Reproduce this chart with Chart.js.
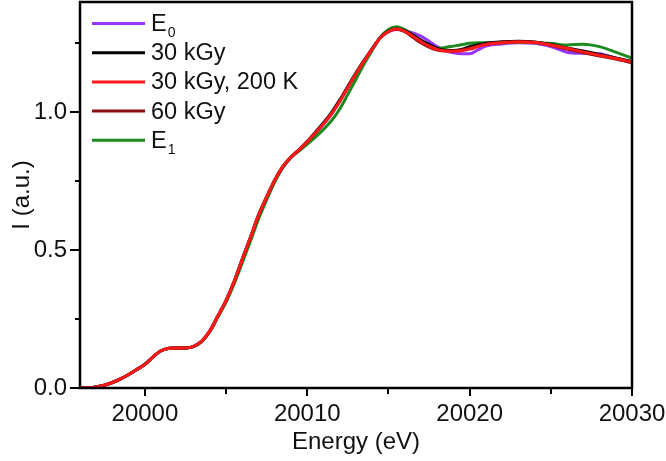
<!DOCTYPE html>
<html>
<head>
<meta charset="utf-8">
<script src="https://cdn.jsdelivr.net/npm/chart.js@4.4.1/dist/chart.umd.min.js"></script>
<style>
  html, body { margin: 0; padding: 0; background: #fff; }
  #wrap { width: 666px; height: 461px; position: relative; }
</style>
</head>
<body>
<div id="wrap"><canvas id="c" width="666" height="461"></canvas></div>
<script>
// ---- data ----
const energy = [19996, 19996.5, 19997, 19997.5, 19998, 19998.5, 19999, 19999.5, 20000, 20000.5,
  20001, 20001.5, 20002, 20002.5, 20003, 20003.5, 20004, 20004.5, 20005, 20005.5,
  20006, 20006.5, 20007, 20007.5, 20008, 20008.5, 20009, 20009.5, 20010, 20010.5,
  20011, 20011.5, 20012, 20012.5, 20013, 20013.5, 20014, 20014.5, 20015, 20015.5,
  20016, 20016.5, 20017, 20017.5, 20018, 20018.5, 20019, 20019.5, 20020, 20020.5,
  20021, 20022, 20023, 20024, 20025, 20026, 20027, 20028, 20029, 20030];

const seriesLabels = ["E₀", "30 kGy", "30 kGy, 200 K", "60 kGy", "E₁"];

const valsE0 = [0.000, 0.001, 0.004, 0.010, 0.020, 0.033, 0.049, 0.067, 0.086, 0.113,
  0.135, 0.144, 0.145, 0.145, 0.151, 0.170, 0.207, 0.262, 0.318, 0.387,
  0.468, 0.546, 0.627, 0.693, 0.752, 0.800, 0.836, 0.862, 0.890, 0.922,
  0.956, 0.994, 1.040, 1.090, 1.140, 1.186, 1.230, 1.270, 1.292, 1.300,
  1.296, 1.288, 1.276, 1.258, 1.238, 1.224, 1.216, 1.212, 1.212, 1.226,
  1.240, 1.248, 1.252, 1.250, 1.238, 1.218, 1.214, 1.212, 1.196, 1.180];

const vals30kGy = [0.000, 0.001, 0.004, 0.010, 0.020, 0.033, 0.049, 0.067, 0.086, 0.113,
  0.135, 0.144, 0.145, 0.145, 0.151, 0.170, 0.207, 0.262, 0.318, 0.387,
  0.468, 0.546, 0.627, 0.693, 0.755, 0.804, 0.838, 0.865, 0.895, 0.928,
  0.962, 1.000, 1.045, 1.094, 1.143, 1.188, 1.231, 1.271, 1.294, 1.302,
  1.296, 1.280, 1.262, 1.246, 1.232, 1.225, 1.224, 1.228, 1.238, 1.244,
  1.250, 1.256, 1.258, 1.255, 1.246, 1.233, 1.222, 1.210, 1.197, 1.184];

const vals30kGy200K = [0.000, 0.001, 0.004, 0.010, 0.020, 0.033, 0.049, 0.067, 0.086, 0.113,
  0.135, 0.144, 0.145, 0.145, 0.151, 0.170, 0.207, 0.262, 0.318, 0.387,
  0.468, 0.546, 0.627, 0.693, 0.755, 0.804, 0.838, 0.864, 0.893, 0.925,
  0.958, 0.995, 1.040, 1.090, 1.140, 1.186, 1.230, 1.270, 1.293, 1.302,
  1.294, 1.276, 1.257, 1.240, 1.228, 1.222, 1.221, 1.223, 1.229, 1.238,
  1.246, 1.252, 1.255, 1.253, 1.244, 1.232, 1.219, 1.207, 1.195, 1.182];

const vals60kGy = [0.000, 0.001, 0.004, 0.010, 0.020, 0.033, 0.049, 0.067, 0.086, 0.113,
  0.135, 0.144, 0.145, 0.145, 0.151, 0.170, 0.207, 0.262, 0.318, 0.387,
  0.468, 0.546, 0.627, 0.693, 0.755, 0.804, 0.838, 0.864, 0.893, 0.925,
  0.958, 0.995, 1.040, 1.090, 1.140, 1.186, 1.230, 1.270, 1.293, 1.302,
  1.292, 1.272, 1.252, 1.236, 1.226, 1.222, 1.223, 1.226, 1.232, 1.240,
  1.247, 1.254, 1.257, 1.254, 1.243, 1.229, 1.216, 1.204, 1.193, 1.180];

const valsE1 = [0.000, 0.001, 0.004, 0.010, 0.020, 0.033, 0.049, 0.067, 0.086, 0.113,
  0.135, 0.144, 0.145, 0.145, 0.150, 0.168, 0.204, 0.258, 0.312, 0.378,
  0.455, 0.533, 0.613, 0.683, 0.748, 0.800, 0.836, 0.860, 0.885, 0.910,
  0.938, 0.970, 1.012, 1.065, 1.120, 1.175, 1.225, 1.272, 1.300, 1.310,
  1.300, 1.280, 1.258, 1.240, 1.232, 1.235, 1.240, 1.245, 1.250, 1.252,
  1.252, 1.252, 1.254, 1.252, 1.250, 1.244, 1.247, 1.238, 1.218, 1.196];

const xTickValues = [20000, 20005, 20010, 20015, 20020, 20025, 20030];
const yTickValues = [0, 0.25, 0.5, 0.75, 1.0, 1.25];

const seriesValues = [valsE0, vals30kGy, vals30kGy200K, vals60kGy, valsE1];
const seriesColors = ["#9a33ff", "#000000", "#ff1a1a", "#8a0f0f", "#1d8a1d"];
const drawOrder = [4, 2, 0, 1, 3]; // lower = drawn on top

const FONT = '"Liberation Sans", Arial, Helvetica, sans-serif';

const datasets = seriesLabels.map((lab, i) => ({
  label: lab,
  data: energy.map((e, j) => ({ x: e, y: seriesValues[i][j] })),
  borderColor: seriesColors[i],
  backgroundColor: seriesColors[i],
  borderWidth: 3,
  pointRadius: 0,
  fill: false,
  cubicInterpolationMode: 'monotone',
  order: drawOrder[i]
}));

const isMajorX = v => v % 10 === 0;
const isMajorY = v => Math.abs(v * 2 - Math.round(v * 2)) < 1e-9;

const framePlugin = {
  id: 'frame',
  afterDatasetsDraw(chart) {
    const { ctx, chartArea: a, scales } = chart;
    ctx.save();
    ctx.strokeStyle = '#000';
    ctx.lineWidth = 2;
    // tick marks, positioned by the library's scales
    ctx.beginPath();
    scales.x.ticks.forEach(t => {
      const px = Math.round(scales.x.getPixelForValue(t.value));
      const len = isMajorX(t.value) ? 8 : 6;
      ctx.moveTo(px, a.bottom);
      ctx.lineTo(px, a.bottom + len);
    });
    scales.y.ticks.forEach(t => {
      const py = Math.round(scales.y.getPixelForValue(t.value));
      const len = isMajorY(t.value) ? 10 : 5;
      ctx.moveTo(a.left, py);
      ctx.lineTo(a.left - len, py);
    });
    ctx.stroke();
    ctx.lineWidth = 2.5;
    ctx.strokeRect(a.left, a.top, a.right - a.left, a.bottom - a.top);
    ctx.restore();
  }
};

const legendPlugin = {
  id: 'insideLegend',
  afterDraw(chart) {
    const { ctx, chartArea: a } = chart;
    ctx.save();
    chart.data.datasets.forEach((ds, i) => {
      const y = a.top + 21.5 + i * 29.2;
      ctx.strokeStyle = ds.borderColor;
      ctx.lineWidth = 3;
      ctx.beginPath();
      ctx.moveTo(a.left + 12, y);
      ctx.lineTo(a.left + 65, y);
      ctx.stroke();
      const m = ds.label.match(/^(.*?)([₀-₉]+)$/);
      ctx.fillStyle = '#111';
      ctx.textBaseline = 'middle';
      ctx.font = '23.5px ' + FONT;
      const tx = a.left + 71;
      if (m) {
        ctx.fillText(m[1], tx, y + 1);
        const w = ctx.measureText(m[1]).width;
        const sub = m[2].replace(/[₀-₉]/g, c => String(c.charCodeAt(0) - 0x2080));
        ctx.font = '14px ' + FONT;
        ctx.fillText(sub, tx + w + 1, y + 10);
      } else {
        ctx.fillText(ds.label, tx, y + 1);
      }
    });
    ctx.restore();
  }
};

new Chart(document.getElementById('c'), {
  type: 'line',
  data: { datasets },
  plugins: [framePlugin, legendPlugin],
  options: {
    responsive: false,
    animation: false,
    devicePixelRatio: 1,
    layout: { padding: { top: 2, right: 34, left: 0, bottom: 0 } },
    plugins: { legend: { display: false }, tooltip: { enabled: false } },
    scales: {
      x: {
        type: 'linear',
        min: 19996,
        max: 20030,
        afterBuildTicks: s => { s.ticks = xTickValues.map(v => ({ value: v })); },
        afterFit: s => { s.height = 73; s.paddingLeft = 0; s.paddingRight = 0; },
        ticks: {
          color: '#111',
          font: { family: FONT, size: 24 },
          padding: 4,
          maxRotation: 0,
          autoSkip: false,
          callback: v => (isMajorX(v) ? String(v) : '')
        },
        grid: {
          drawOnChartArea: false,
          drawTicks: true,
          tickLength: 8,
          tickColor: 'rgba(0,0,0,0)'
        },
        border: { display: false },
        title: {
          display: true,
          text: 'Energy (eV)',
          color: '#111',
          font: { family: FONT, size: 24 },
          padding: { top: 0, bottom: 4 }
        }
      },
      y: {
        type: 'linear',
        min: 0,
        max: 1.40,
        afterBuildTicks: s => { s.ticks = yTickValues.map(v => ({ value: v })); },
        afterFit: s => { s.width = 80; s.paddingTop = 0; s.paddingBottom = 0; },
        ticks: {
          color: '#111',
          font: { family: FONT, size: 24 },
          padding: 3,
          autoSkip: false,
          callback: v => (isMajorY(v) ? v.toFixed(1) : '')
        },
        grid: {
          drawOnChartArea: false,
          drawTicks: true,
          tickLength: 10,
          tickColor: 'rgba(0,0,0,0)'
        },
        border: { display: false },
        title: {
          display: true,
          text: 'I (a.u.)',
          color: '#111',
          font: { family: FONT, size: 24 },
          padding: { top: 8, bottom: 0 }
        }
      }
    }
  }
});
</script>
</body>
</html>
